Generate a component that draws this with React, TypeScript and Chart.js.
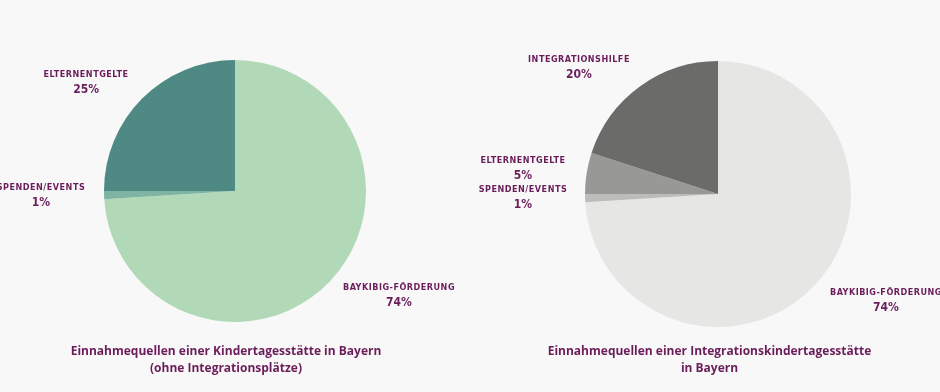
import React, { useEffect, useRef } from "react";
import { Chart, registerables } from "chart.js";

Chart.register(...registerables);

// ---- Data ----
const leftCategories = ["BayKiBiG-Förderung", "Spenden/Events", "Elternentgelte"];
const leftValues = [74, 1, 25];
const leftColors = ["#b1d9b8", "#7fb3a4", "#4e8a83"];
const leftTitle = ["Einnahmequellen einer Kindertagesstätte in Bayern", "(ohne Integrationsplätze)"];
const leftLabelOffsets = [
  [1.252, 0.74],
  [-1.481, -0.023],
  [-1.137, -0.885],
];

const rightCategories = ["BayKiBiG-Förderung", "Spenden/Events", "Elternentgelte", "Integrationshilfe"];
const rightValues = [74, 1, 5, 20];
const rightColors = ["#e6e6e4", "#bcbcbb", "#989897", "#6b6c6a"];
const rightTitle = ["Einnahmequellen einer Integrationskindertagesstätte", "in Bayern"];
const rightLabelOffsets = [
  [1.263, 0.744],
  [-1.466, -0.03],
  [-1.466, -0.248],
  [-1.045, -1.008],
];

const TEXT_COLOR = "#6a1d5a";
const BG = "#f8f8f8";

type PieProps = {
  categories: string[];
  values: number[];
  colors: string[];
  title: string[];
  labelOffsets: number[][];
  padding: { left: number; right: number; top: number; bottom: number };
  titleShift: number;
  left: number;
};

function PieChart(props: PieProps) {
  const ref = useRef<HTMLCanvasElement | null>(null);
  useEffect(() => {
    if (!ref.current) return;
    const total = props.values.reduce((a, b) => a + b, 0);
    const labelPlugin = {
      id: "outerLabels",
      afterDraw(chart: any) {
        const ctx = chart.ctx as CanvasRenderingContext2D;
        const meta = chart.getDatasetMeta(0);
        const arc0 = meta.data[0] as any;
        const cx = arc0.x;
        const cy = arc0.y;
        const r = arc0.outerRadius;
        ctx.save();
        ctx.fillStyle = TEXT_COLOR;
        ctx.textAlign = "center";
        ctx.textBaseline = "middle";
        props.categories.forEach((cat, i) => {
          const off = props.labelOffsets[i];
          const x = cx + off[0] * r;
          const y = cy + off[1] * r;
          ctx.font = "bold 9px 'DejaVu Sans Condensed', 'DejaVu Sans'";
          (ctx as any).letterSpacing = "0.5px";
          ctx.fillText(cat.toUpperCase(), x, y);
          ctx.font = "bold 12px 'DejaVu Sans Condensed', 'DejaVu Sans'";
          (ctx as any).letterSpacing = "0px";
          const pct = Math.round((props.values[i] / total) * 100) + "%";
          ctx.fillText(pct, x, y + 14.5);
        });
        // titles
        ctx.font = "bold 12px 'Open Sans'";
        (ctx as any).letterSpacing = "0px";
        const tx = cx + props.titleShift;
        props.title.forEach((line, i) => {
          ctx.fillText(line, tx, 352 + i * 17);
        });
        ctx.restore();
      },
    };
    const chart = new Chart(ref.current, {
      type: "pie",
      data: {
        labels: props.categories,
        datasets: [
          {
            data: props.values,
            backgroundColor: props.colors,
            borderWidth: 0,
            hoverOffset: 0,
          },
        ],
      },
      options: {
        animation: false,
        responsive: false,
        maintainAspectRatio: false,
        layout: { padding: props.padding },
        plugins: {
          legend: { display: false },
          tooltip: { enabled: false },
          title: { display: false },
        },
      },
      plugins: [labelPlugin],
    });
    return () => chart.destroy();
  }, []);
  return (
    <canvas
      ref={ref}
      width={470}
      height={392}
      style={{ position: "absolute", left: props.left, top: 0, width: 470, height: 392 }}
    />
  );
}

export default function App() {
  return (
    <div
      style={{
        position: "fixed",
        left: 0,
        top: 0,
        width: 940,
        height: 392,
        background: BG,
        overflow: "hidden",
      }}
    >
      <PieChart
        categories={leftCategories}
        values={leftValues}
        colors={leftColors}
        title={leftTitle}
        labelOffsets={leftLabelOffsets}
        padding={{ left: 104, right: 104, top: 60, bottom: 70 }}
        titleShift={-9}
        left={0}
      />
      <PieChart
        categories={rightCategories}
        values={rightValues}
        colors={rightColors}
        title={rightTitle}
        labelOffsets={rightLabelOffsets}
        padding={{ left: 115, right: 89, top: 61, bottom: 65 }}
        titleShift={-8.5}
        left={470}
      />
    </div>
  );
}
